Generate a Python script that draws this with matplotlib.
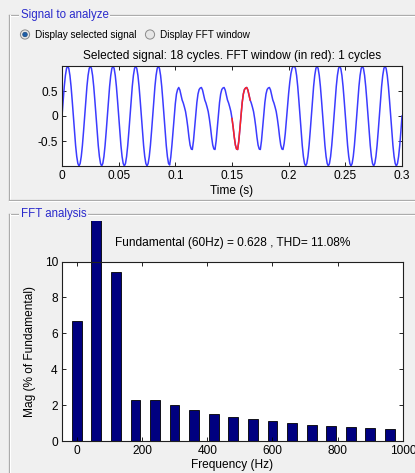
import numpy as np
import matplotlib
matplotlib.use("Agg")
import matplotlib.pyplot as plt
from matplotlib.patches import Ellipse
from matplotlib.lines import Line2D
from matplotlib.transforms import Bbox, TransformedBbox

plt.rcParams['font.family'] = ['Liberation Sans', 'DejaVu Sans']

# ---------------- data ----------------
# signal sampled every 1 ms (values read from the picture)
sample_step = 0.001
lead_in = [0.00, 0.31, 0.59, 0.81, 0.95]
clean_cycle = [1.00, 0.95, 0.81, 0.59, 0.31, 0.00, -0.31, -0.59, -0.81, -0.95,
               -1.00, -0.95, -0.81, -0.59, -0.31, 0.00, 0.31, 0.59, 0.81, 0.95]
transition_in = [1.00, 0.95, 0.81, 0.59, 0.31, 0.00, -0.31, -0.59, -0.81, -0.95,
                 -0.98, -0.82, -0.58, -0.30, -0.02, 0.25, 0.44, 0.53]
dist_cycle = [0.57, 0.52, 0.42, 0.32, 0.26, 0.18, 0.09, -0.05, -0.22, -0.42,
              -0.58, -0.66, -0.67, -0.50, -0.25, 0.02, 0.27, 0.44, 0.53, 0.56]
transition_out = [0.57, 0.52, 0.42, 0.32, 0.26, 0.18, 0.09, -0.05, -0.22, -0.42,
                  -0.58, -0.66, -0.67, -0.55, -0.35, -0.08, 0.20, 0.46, 0.68,
                  0.85, 0.95, 0.99]
lead_out = [1.00, 0.95, 0.81, 0.59, 0.31, 0.00, -0.31, -0.59, -0.81, -0.95,
            -1.00, -0.95, -0.81, -0.59, -0.31, 0.00]
fft_window = (0.15, 0.15 + 1 / 60)

freqs = [0, 60, 120, 180, 240, 300, 360, 420, 480, 540, 600, 660, 720, 780,
         840, 900, 960]
mags = [6.70, 100.0, 9.41, 2.31, 2.31, 2.01, 1.75, 1.51, 1.34, 1.20, 1.10,
        1.01, 0.89, 0.84, 0.80, 0.74, 0.69]

title_top = "Selected signal: 18 cycles. FFT window (in red): 1 cycles"
title_bottom = "Fundamental (60Hz) = 0.628 , THD= 11.08%"
x_ticks_top = [0, 0.05, 0.1, 0.15, 0.2, 0.25, 0.3]
x_ticklabels_top = ["0", "0.05", "0.1", "0.15", "0.2", "0.25", "0.3"]
y_ticks_top = [-0.5, 0, 0.5]
y_ticklabels_top = ["-0.5", "0", "0.5"]
x_ticks_bot = [0, 200, 400, 600, 800, 1000]
y_ticks_bot = [0, 2, 4, 6, 8, 10]

signal = np.array(lead_in + clean_cycle * 4 + transition_in + dist_cycle * 4
                  + transition_out + clean_cycle * 4 + lead_out)
t = np.arange(len(signal)) * sample_step

# ---------------- figure ----------------
W, H = 415, 473
BG = '#f0f0f0'
fig = plt.figure(figsize=(W / 100, H / 100), dpi=100, facecolor=BG)


def fx(px):
    return px / W


def fy(py):
    return 1 - py / H


def hline(x0, x1, y):
    fig.add_artist(Line2D([fx(x0), fx(x1)], [fy(y), fy(y)], color='#a8a8a8', lw=0.9))
    fig.add_artist(Line2D([fx(x0), fx(x1)], [fy(y + 1), fy(y + 1)], color='white', lw=0.8))


def vline(x, y0, y1):
    fig.add_artist(Line2D([fx(x), fx(x)], [fy(y0), fy(y1)], color='#a8a8a8', lw=0.9))
    fig.add_artist(Line2D([fx(x + 1), fx(x + 1)], [fy(y0), fy(y1)], color='white', lw=0.8))


# panel frames
hline(9, 415, 15)
vline(9, 15, 200)
hline(9, 415, 200)
hline(9, 415, 214)
vline(9, 214, 473)

panel_blue = '#2a2acc'
fig.text(fx(21), fy(15), "Signal to analyze", color=panel_blue, fontsize=8.3,
         va='center', ha='left',
         bbox=dict(facecolor=BG, edgecolor='none', pad=1.2))
fig.text(fx(21), fy(214), "FFT analysis", color=panel_blue, fontsize=8.3,
         va='center', ha='left',
         bbox=dict(facecolor=BG, edgecolor='none', pad=1.2))

# radio buttons
for cx, label, sel in [(25, "Display selected signal", True),
                       (150, "Display FFT window", False)]:
    c = Ellipse((fx(cx), fy(34.5)), width=9.2 / W, height=9.2 / H,
                facecolor='#e6e6e6', edgecolor='#8a8a8a', lw=0.7,
                transform=fig.transFigure)
    fig.add_artist(c)
    if sel:
        d = Ellipse((fx(cx), fy(34.5)), width=4.6 / W, height=4.6 / H,
                    facecolor='#1f5fa8', edgecolor='#153f70', lw=0.4,
                    transform=fig.transFigure)
        fig.add_artist(d)
    fig.text(fx(cx + 9.5), fy(34.5), label, fontsize=7.2, va='center', ha='left',
             color='black')

# ---------------- top axes ----------------
ax1 = fig.add_axes([fx(62), fy(166), (402 - 62) / W, (166 - 66) / H])
ax1.set_facecolor('white')
ax1.plot(t, signal, color='#3b3bff', lw=1.1)
mask = (t >= fft_window[0] - 1e-9) & (t <= fft_window[1] + 1e-9)
ax1.plot(t[mask], signal[mask], color='#ff2222', lw=1.1)
ax1.set_xlim(0, 0.3)
ax1.set_ylim(-1, 1)
ax1.set_xticks(x_ticks_top)
ax1.set_xticklabels(x_ticklabels_top)
ax1.set_yticks(y_ticks_top)
ax1.set_yticklabels(y_ticklabels_top)
ax1.set_title(title_top, fontsize=8.6, pad=5)
ax1.set_xlabel("Time (s)", fontsize=8.6, labelpad=2)

# ---------------- bottom axes ----------------
ax2 = fig.add_axes([fx(62), fy(441), (403 - 62) / W, (441 - 261.5) / H])
ax2.set_facecolor('white')
bars = ax2.bar(freqs, mags, width=30, color='#000080', edgecolor='black', lw=0.6)
clip_box = TransformedBbox(Bbox.from_extents(0, 0, 1, fy(221)), fig.transFigure)
for b in bars:
    b.set_clip_box(clip_box)
ax2.set_xlim(-45, 1000)
ax2.set_ylim(0, 10)
ax2.set_xticks(x_ticks_bot)
ax2.set_yticks(y_ticks_bot)
ax2.set_title(title_bottom, fontsize=8.6, pad=11)
ax2.set_xlabel("Frequency (Hz)", fontsize=8.6, labelpad=1)
ax2.set_ylabel("Mag (% of Fundamental)", fontsize=8.6, labelpad=6)

for ax in (ax1, ax2):
    ax.tick_params(direction='in', length=3, width=0.6, labelsize=8.6,
                   top=True, right=True, pad=3, colors='black')
    for s in ax.spines.values():
        s.set_linewidth(0.8)
        s.set_color('#202020')

fig.savefig("out.png", dpi=100, facecolor=BG)
